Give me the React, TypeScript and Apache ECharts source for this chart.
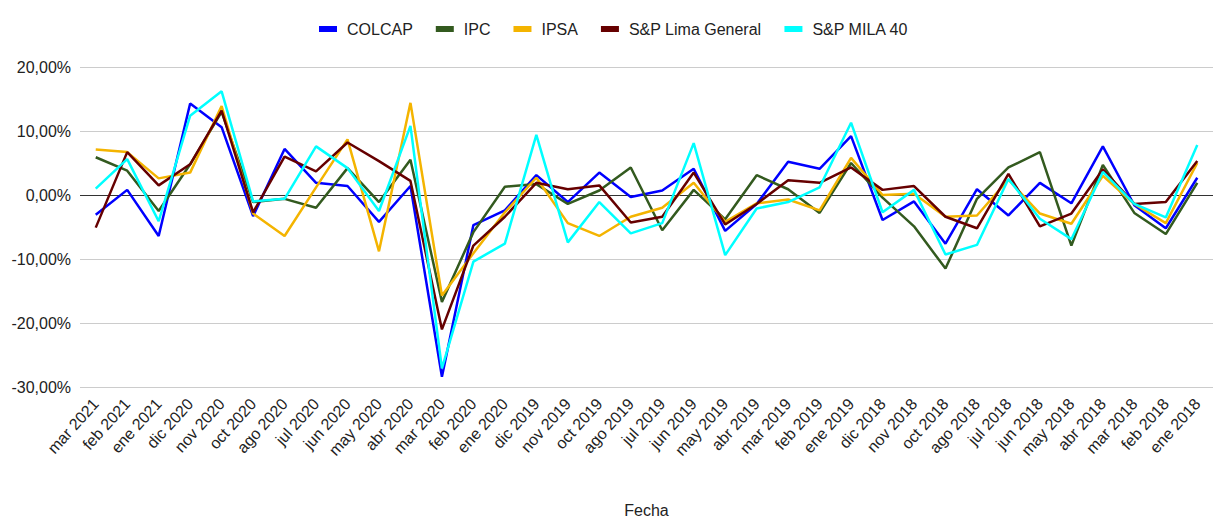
import React, { useEffect, useRef } from "react";
import * as echarts from "echarts";

const categories = [
  "mar 2021", "feb 2021", "ene 2021", "dic 2020", "nov 2020", "oct 2020", "ago 2020", "jul 2020", "jun 2020",
  "may 2020", "abr 2020", "mar 2020", "feb 2020", "ene 2020", "dic 2019", "nov 2019", "oct 2019", "ago 2019",
  "jul 2019", "jun 2019", "may 2019", "abr 2019", "mar 2019", "feb 2019", "ene 2019", "dic 2018", "nov 2018",
  "oct 2018", "ago 2018", "jul 2018", "jun 2018", "may 2018", "abr 2018", "mar 2018", "feb 2018", "ene 2018",
];

const colcap = [
  -3.1, 0.8, -6.4, 14.3, 10.6, -3.3, 7.2, 1.9, 1.4, -4.2, 1.4, -28.4, -4.7, -2.4, 3.1, -1.1, 3.5, -0.3,
  0.7, 4.1, -5.6, -1.4, 5.2, 4.1, 9.2, -3.9, -1.0, -7.6, 0.9, -3.2, 1.9, -1.3, 7.6, -1.6, -5.2, 2.7,
];
const ipc = [
  5.9, 3.8, -2.5, 4.8, 13.0, -1.1, -0.6, -2.0, 4.2, -1.1, 5.5, -16.7, -5.8, 1.3, 1.7, -1.4, 0.7, 4.3,
  -5.5, 0.8, -3.8, 3.1, 0.9, -2.8, 5.0, -0.4, -4.9, -11.5, -0.6, 4.3, 6.7, -7.9, 4.7, -2.8, -6.1, 1.9,
];
const ipsa = [
  7.1, 6.7, 2.6, 3.5, 13.9, -2.9, -6.4, 1.2, 8.7, -8.8, 14.4, -15.7, -9.1, -2.7, 2.7, -4.4, -6.4, -3.4,
  -2.0, 1.9, -4.2, -1.3, -0.7, -2.4, 5.8, 0.0, 0.2, -3.4, -3.2, 2.4, -2.9, -4.5, 3.0, -1.4, -4.4, 5.0,
];
const lima = [
  -5.1, 6.7, 1.5, 4.8, 13.2, -2.7, 6.0, 3.7, 8.2, 5.3, 2.2, -21.0, -7.9, -3.4, 1.9, 0.9, 1.5, -4.3,
  -3.4, 3.5, -4.6, -1.4, 2.3, 1.9, 4.3, 0.8, 1.4, -3.4, -5.2, 3.3, -4.9, -2.9, 4.0, -1.4, -1.1, 5.3,
];
const mila = [
  1.0, 5.6, -4.1, 12.4, 16.2, -1.0, -0.6, 7.6, 4.2, -2.5, 10.8, -27.1, -10.4, -7.6, 9.4, -7.4, -1.1, -6.0,
  -4.4, 8.1, -9.4, -2.1, -1.1, 1.2, 11.3, -2.7, 0.8, -9.3, -7.8, 2.5, -3.7, -6.9, 3.6, -1.4, -3.5, 7.8,
];

const seriesNames = ["COLCAP", "IPC", "IPSA", "S&P Lima General", "S&P MILA 40"];
const seriesData = [colcap, ipc, ipsa, lima, mila];
const seriesColors = ["#0000ff", "#335a1f", "#f4b400", "#660000", "#00ffff"];

const yTicks = { min: -30, max: 20, interval: 10 };
const FONT = "'Liberation Sans', Arial, sans-serif";

export default function App() {
  const ref = useRef<HTMLDivElement>(null);
  useEffect(() => {
    const chart = echarts.init(ref.current!, null, { renderer: "svg" });
    chart.setOption({
      animation: false,
      textStyle: { fontFamily: FONT },
      legend: {
        top: 16,
        left: 314,
        icon: "rect",
        itemWidth: 18,
        itemHeight: 6,
        itemGap: 23,
        textStyle: { fontSize: 16, color: "#222", fontFamily: FONT, padding: [0, 0, 0, 5] },
        data: seriesNames,
      },
      grid: { left: 80, right: -6, top: 67, bottom: 125, containLabel: false },
      xAxis: {
        type: "category",
        data: categories,
        boundaryGap: true,
        name: "Fecha",
        nameLocation: "middle",
        nameGap: 115,
        nameTextStyle: { fontSize: 16, color: "#222", fontFamily: FONT },
        axisLine: { show: false },
        axisTick: { show: false },
        axisLabel: { rotate: 48, fontSize: 16, color: "#222", margin: 14, interval: 0, fontFamily: FONT },
        splitLine: { show: false },
      },
      yAxis: {
        type: "value",
        min: yTicks.min,
        max: yTicks.max,
        interval: yTicks.interval,
        axisLine: { show: false },
        axisTick: { show: false },
        axisLabel: {
          fontSize: 16,
          color: "#222",
          margin: 9,
          fontFamily: FONT,
          formatter: (v: number) => v.toFixed(2).replace(".", ",") + "%",
        },
        splitLine: { lineStyle: { color: "#cccccc", width: 1 } },
      },
      series: seriesNames.map((name, i) => ({
        name,
        type: "line",
        data: seriesData[i],
        symbol: "none",
        color: seriesColors[i],
        lineStyle: { width: 2.5, color: seriesColors[i] },
        z: 3,
        ...(i === 0
          ? {
              markLine: {
                silent: true,
                symbol: "none",
                label: { show: false },
                lineStyle: { color: "#333", width: 1, type: "solid" },
                data: [{ yAxis: 0 }],
                z: 1,
              },
            }
          : {}),
      })),
    });
    return () => chart.dispose();
  }, []);
  return <div ref={ref} style={{ width: 1213, height: 523, position: "absolute", left: 0, top: 0 }} />;
}
